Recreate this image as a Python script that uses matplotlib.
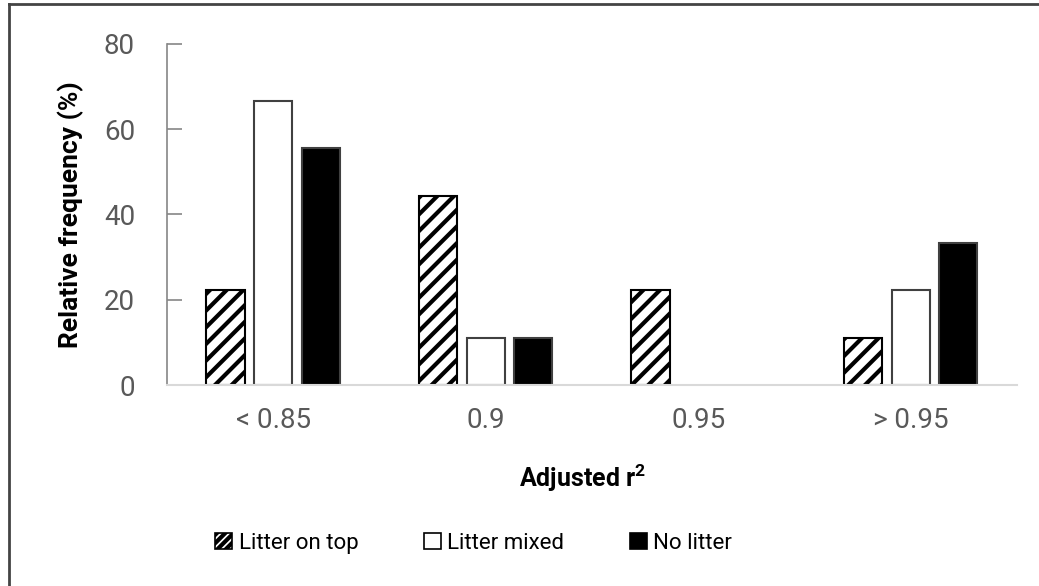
import matplotlib.pyplot as plt
import numpy as np
from matplotlib.lines import Line2D
from matplotlib.patches import Patch

plt.rcParams["font.family"] = ["Roboto", "DejaVu Sans"]
plt.rcParams["hatch.linewidth"] = 3.0

categories = ["< 0.85", "0.9", "0.95", "> 0.95"]
litter_on_top = [22.2, 44.4, 22.2, 11.1]
litter_mixed = [66.7, 11.1, 0.0, 22.2]
no_litter = [55.6, 11.1, 0.0, 33.3]

fig = plt.figure(figsize=(10.39, 5.86), dpi=100)
ax = fig.add_axes([0.1607, 0.343, 0.818, 0.582])

x = np.arange(len(categories))
width = 0.18
offset = 0.224
edge = "#404040"

ax.bar(x - offset, litter_on_top, width, facecolor="white", edgecolor="black",
       hatch="//", linewidth=1.5, label="Litter on top")
# zero-height bars would still show an edge line, so skip them
mixed_x = [xi for xi, v in zip(x, litter_mixed) if v > 0]
ax.bar(mixed_x, [v for v in litter_mixed if v > 0], width, facecolor="white",
       edgecolor=edge, linewidth=1.5, label="Litter mixed")
none_x = [xi for xi, v in zip(x, no_litter) if v > 0]
ax.bar([xi + offset for xi in none_x], [v for v in no_litter if v > 0], width,
       facecolor="black", edgecolor=edge, linewidth=1.5, label="No litter")

ax.set_xlim(-0.5, len(categories) - 0.5)
ax.set_ylim(0, 80)
ax.set_yticks([0, 20, 40, 60, 80])
ax.set_xticks(x)
ax.set_xticklabels(categories)

for side in ("top", "right"):
    ax.spines[side].set_visible(False)
ax.spines["left"].set_color("#868686")
ax.spines["left"].set_linewidth(1.2)
ax.spines["bottom"].set_color("#d9d9d9")
ax.spines["bottom"].set_linewidth(1.5)

ax.tick_params(axis="y", direction="in", length=11, width=1.2, color="#868686",
               labelsize=20, labelcolor="#595959", pad=23)
ax.tick_params(axis="x", length=0, labelsize=20, labelcolor="#595959", pad=16)

ax.set_ylabel("Relative frequency (%)", fontsize=19, fontweight="bold", labelpad=14)
fig.text(0.561, 0.184, r"Adjusted r$^{\mathregular{2}}$", fontsize=18,
         fontweight="bold", ha="center", va="center")

handles = [
    Patch(facecolor="white", edgecolor="black", hatch="////", linewidth=1.2),
    Patch(facecolor="white", edgecolor="black", linewidth=1.2),
    Patch(facecolor="black", edgecolor="black", linewidth=1.2),
]
fig.legend(handles, ["Litter on top", "Litter mixed", "No litter"],
           loc="center", bbox_to_anchor=(0.456, 0.073), ncol=3, frameon=False,
           fontsize=16, handlelength=0.75, handleheight=0.75, handletextpad=0.3,
           columnspacing=2.95)

# outer frame around the figure
fig.add_artist(Line2D([0.009, 0.009], [0, 0.994], transform=fig.transFigure,
                      color="#444444", linewidth=2.0))
fig.add_artist(Line2D([0.009, 1.0], [0.994, 0.994], transform=fig.transFigure,
                      color="#444444", linewidth=2.0))

fig.savefig("out.png", dpi=100)
